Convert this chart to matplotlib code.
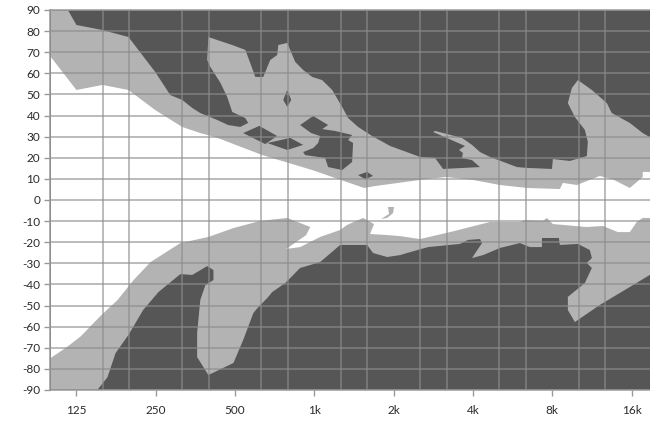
import numpy as np
import matplotlib
matplotlib.use('Agg')
from matplotlib import pyplot as plt
from matplotlib.ticker import NullFormatter

plt.rcParams['font.family'] = ['Lato', 'DejaVu Sans']

DARK = '#565656'
LIGHT = '#b3b3b3'
WHITE = '#ffffff'

# outer edge of the light band: upper edge left->right, then lower edge right->left
upper_edge_freq = [100, 116, 125, 157, 197, 249, 284, 315, 344, 369, 428, 471, 523, 561, 547,
                   488, 467, 440, 403, 392, 396, 488, 547, 571, 597, 640, 680, 723, 730, 789,
                   846, 907, 981, 1071, 1169, 1275, 1344, 1466, 1657, 1939, 2519, 2872, 3080,
                   4255, 3967, 3635, 3665, 3541, 3732, 2825, 2876, 3635, 3967, 4255, 4643,
                   5876, 6413, 7980, 8045, 9330, 10820, 10920, 10640, 9750, 9170, 9500, 10010,
                   11310, 12890, 13460, 15760, 17640, 19000]
upper_edge_deg = [90, 90, 82.9, 80.5, 77.2, 60.6, 49.7, 47.4, 43.6, 41.2, 37.9, 35.5, 34.6, 36.5,
                  38.8, 41.7, 48.8, 55.5, 63.0, 66.3, 77.2, 73.4, 71.1, 64.9, 58.3, 58.3, 66.3,
                  68.7, 73.4, 74.4, 65.4, 61.6, 58.3, 56.8, 52.1, 44.1, 38.8, 34.6, 30.3, 25.6,
                  20.4, 19.9, 14.7, 15.6, 18.9, 19.9, 22.3, 23.7, 25.6, 32.2, 32.7, 29.4, 26.1,
                  22.7, 20.4, 15.6, 15.2, 14.7, 19.4, 18.5, 20.8, 27.5, 33.2, 39.3, 45.9, 53.1,
                  56.8, 52.1, 45.9, 41.2, 36.5, 31.7, 29.4]

lower_edge_freq = [19000, 15760, 12130, 9750, 9170, 9170, 10640, 11310, 10820, 11310, 11110,
                   10010, 8550, 8480, 7310, 7310, 6580, 6030, 5070, 4370, 3967, 4330, 4255,
                   3832, 3573, 2702, 2249, 2115, 1888, 1671, 1586, 1253, 1052, 883, 776, 692,
                   663, 613, 587, 537, 493, 396, 359, 359, 369, 386, 414, 414, 392, 344, 310,
                   256, 224, 197, 176, 164, 150, 100]
lower_edge_deg = [-35.1, -41.2, -49.7, -57.8, -52.1, -45.9, -39.3, -32.2, -29.8, -27.5, -23.7,
                  -20.8, -21.3, -18.0, -18.0, -22.3, -22.3, -20.4, -22.7, -26.1, -27.5, -20.4,
                  -18.5, -18.9, -20.8, -22.3, -25.1, -26.1, -27.0, -25.1, -21.3, -21.3, -29.4,
                  -32.2, -39.3, -43.6, -46.4, -50.7, -53.5, -66.3, -77.2, -82.9, -74.4, -63.0,
                  -47.4, -40.3, -37.9, -33.2, -31.3, -35.5, -35.1, -43.6, -52.1, -63.9, -72.5,
                  -83.9, -90, -90]

# white core: top edge left->right, bottom edge right->left
core_top_freq = [100, 125, 157, 197, 249, 315, 369, 421, 634, 981, 1545, 1700, 2519, 3163, 4003,
                 5070, 6413, 8550, 8780, 9920, 12130, 13720, 15760, 17640, 17640, 19000]
core_top_deg = [67.7, 52.1, 54.5, 52.1, 42.6, 34.6, 31.7, 29.8, 21.3, 14.2, 5.7, 6.6, 9.5, 10.9,
                9.5, 7.1, 5.7, 5.2, 8.1, 7.1, 11.4, 9.5, 5.7, 10.9, 13.3, 13.3]
core_bottom_freq = [19000, 17640, 16750, 15760, 14200, 12450, 10820, 8045, 7630, 7370, 6300,
                    6030, 4643, 3275, 2519, 2115, 1888, 1628, 1685, 1532, 1332, 1253, 1052, 883,
                    782, 931, 965, 789, 623, 493, 396, 310, 239, 206, 179, 154, 130, 116, 100]
core_bottom_deg = [-8.5, -8.5, -10.4, -15.2, -15.2, -12.3, -12.8, -11.4, -8.5, -9.9, -9.5,
                   -10.4, -10.4, -15.2, -18.5, -17.1, -16.6, -16.1, -11.4, -8.5, -11.8, -14.2,
                   -17.5, -22.3, -23.2, -16.6, -12.8, -8.5, -9.9, -13.3, -17.5, -20.4, -29.4,
                   -37.9, -47.4, -55.0, -64.5, -69.3, -74.8]

# dark islands inside the upper light band
island_a_freq = [537, 618, 723, 651]
island_a_deg = [31.7, 35.1, 30.3, 26.5]
island_b_freq = [663, 810, 907, 789]
island_b_deg = [27.0, 29.4, 26.1, 23.7]
island_c_freq = [883, 990, 1128, 1071, 1199, 1391, 1344, 1403, 1391, 1275, 1128, 1099, 923,
                 907, 990, 1034, 1052, 973]
island_c_deg = [35.5, 39.8, 35.5, 33.6, 32.7, 30.8, 28.4, 27.0, 18.0, 14.2, 15.6, 19.9, 21.3,
                22.7, 24.6, 27.0, 30.3, 31.7]
island_d_freq = [1466, 1586, 1671, 1558]
island_d_deg = [11.8, 13.3, 11.4, 9.9]
island_e_freq = [789, 817, 789, 762]
island_e_deg = [52.1, 47.4, 44.1, 47.4]

# small light spot inside the white core
spot_freq = [1905, 2007, 1990, 1888, 1793, 1920]
spot_deg = [-3.3, -3.3, -6.2, -8.5, -9.0, -6.6]

x_ticks = [125, 250, 500, 1000, 2000, 4000, 8000, 16000]
x_labels = ['125', '250', '500', '1k', '2k', '4k', '8k', '16k']
y_ticks = list(range(-90, 91, 10))

fig = plt.figure(figsize=(6.5, 4.22), dpi=100)
ax = fig.add_axes([50 / 650, 32 / 422, 600 / 650, 380 / 422])
ax.set_facecolor(DARK)

ax.fill(upper_edge_freq + lower_edge_freq, upper_edge_deg + lower_edge_deg,
        color=LIGHT, lw=0)
ax.fill(core_top_freq + core_bottom_freq, core_top_deg + core_bottom_deg,
        color=WHITE, lw=0)
for fx, fy in [(island_a_freq, island_a_deg), (island_b_freq, island_b_deg),
               (island_c_freq, island_c_deg), (island_d_freq, island_d_deg),
               (island_e_freq, island_e_deg)]:
    ax.fill(fx, fy, color=DARK, lw=0)
ax.fill(spot_freq, spot_deg, color=LIGHT, lw=0)

ax.set_xscale('log')
ax.set_xlim(100, 18800)
ax.set_ylim(-90, 90)

# 1/3 octave grid (minor ticks), labelled octaves (major ticks)
third_oct = 125 * 2 ** (np.arange(-1, 22) / 3)
ax.set_xticks(third_oct, minor=True)
ax.xaxis.set_minor_formatter(NullFormatter())
ax.set_xticks(x_ticks)
ax.set_xticklabels(x_labels)
ax.set_yticks(y_ticks)
ax.set_yticklabels([str(v) for v in y_ticks])
ax.tick_params(axis='x', which='minor', length=0)
ax.tick_params(which='major', length=4, width=1, color='#999999', labelsize=8.5,
               labelcolor='#2a2a2a', pad=7)
ax.tick_params(axis='y', pad=3)

ax.set_axisbelow(False)
ax.grid(True, which='minor', axis='x', color='#8c8c8c', alpha=0.75, lw=1.1)
ax.grid(False, which='major', axis='x')
ax.grid(True, which='major', axis='y', color='#8c8c8c', alpha=0.75, lw=1.1)

for side in ['left', 'bottom', 'top']:
    ax.spines[side].set_color('#9a9a9a')
    ax.spines[side].set_linewidth(1.1)
ax.spines['right'].set_visible(False)

plt.savefig('out.png', dpi=100)
